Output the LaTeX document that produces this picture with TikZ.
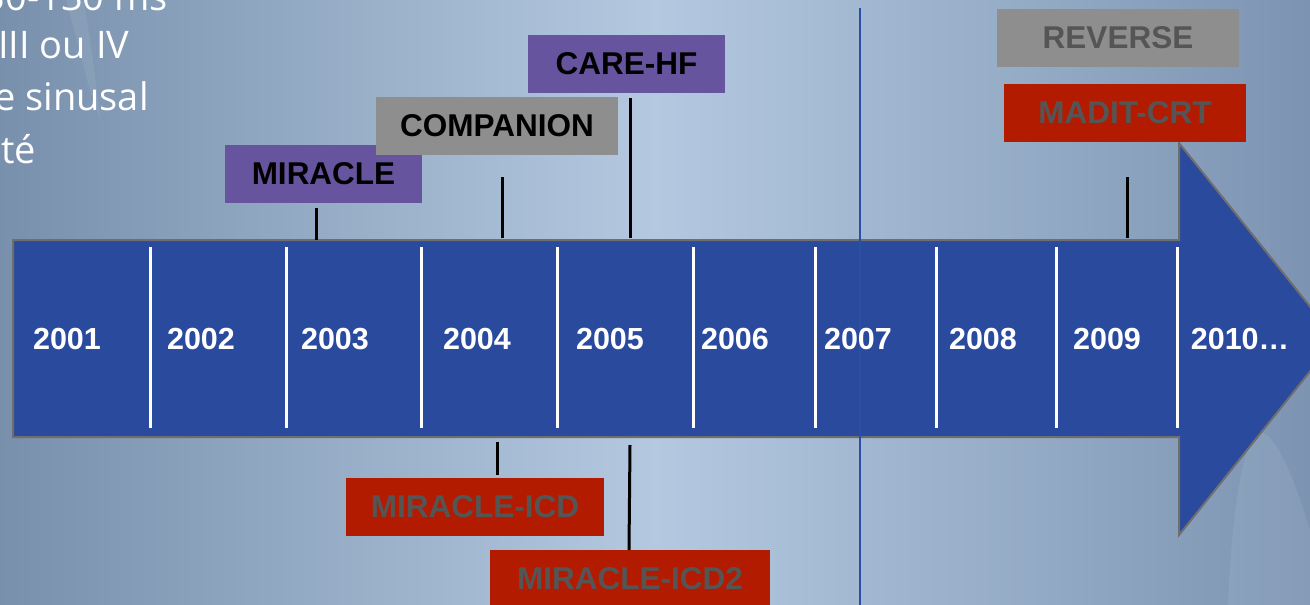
\documentclass[tikz,border=0pt]{standalone}
\usepackage{fontspec}
\setmainfont{Liberation Sans}
\newfontfamily\osans{Open Sans}
\definecolor{bgL}{HTML}{7890AC}
\definecolor{bgM}{HTML}{B4C9E0}
\definecolor{bgR}{HTML}{7C94B2}
\definecolor{arrowblue}{HTML}{2A4A9E}
\definecolor{outl}{HTML}{6E6E6E}
\definecolor{vline}{HTML}{2C4EA6}
\definecolor{purp}{HTML}{67549E}
\definecolor{greybox}{HTML}{8E8E8E}
\definecolor{redbox}{HTML}{B31B00}
\definecolor{dtext}{HTML}{555555}
\begin{document}
\begin{tikzpicture}[x=1pt,y=-1pt,
  lab/.style={inner sep=0pt, minimum height=58pt, font=\fontsize{31.5}{36}\selectfont\bfseries},
  purplebox/.style={lab, fill=purp, text=black},
  graybox/.style={lab, fill=greybox},
  rbox/.style={lab, fill=redbox, text=dtext},
  year/.style={font=\fontsize{30.5}{36}\selectfont\bfseries, text=white, inner sep=0pt},
  sep/.style={white, line width=3pt},
  conn/.style={black, line width=3pt},
  intro/.style={font=\osans\fontsize{38}{44}\selectfont, text=white, inner sep=0pt}]
\useasboundingbox (0,0) rectangle (1310,605);
\begin{scope}
\clip (0,0) rectangle (1310,605);
% background
\shade[left color=bgL, right color=bgR, middle color=bgM] (0,0) rectangle (1310,605);
\fill[white, opacity=0.07] (66,0) .. controls (80,50) and (88,90) .. (100,118) .. controls (96,80) and (90,40) .. (84,0) -- cycle;
\fill[white, opacity=0.07] (1228,605) .. controls (1232,500) and (1245,440) .. (1258,432) .. controls (1275,430) and (1295,480) .. (1310,530) -- (1310,605) -- cycle;

% intro text fragments
\node[intro, anchor=base east] (t1) at (168,10) {30-130 ms};
\node[intro, anchor=base west] (t2) at (-2,58) {III ou IV};
\node[intro, anchor=base west] (t3) at (-6,110) {e sinusal};
\node[intro, anchor=base west] (t4) at (1,163) {té};

% arrow
\draw[fill=arrowblue, draw=outl, line width=2pt, line join=miter]
  (13,240) -- (1179,240) -- (1179,143) -- (1336,339) -- (1179,535) -- (1179,437) -- (13,437) -- cycle;

% vertical line
\coordinate (vtop) at (860,8);
\coordinate (vbot) at (860,605);
\draw[vline, line width=2.5pt] (vtop) -- (vbot);

% separators
\foreach \x in {150,286,421,557,693,815,936,1056,1177}{
  \draw[sep] (\x,247) -- (\x,428);
}

% years
\node[year] (y1) at (67,339) {2001};
\node[year] (y2) at (201,339) {2002};
\node[year] (y3) at (335,339) {2003};
\node[year] (y4) at (477,339) {2004};
\node[year] (y5) at (610,339) {2005};
\node[year] (y6) at (735,339) {2006};
\node[year] (y7) at (858,339) {2007};
\node[year] (y8) at (983,339) {2008};
\node[year] (y9) at (1107,339) {2009};
\node[year] (y10) at (1240,339) {2010…};

% boxes above
\node[purplebox, minimum width=197pt] (miracle) at (323.5,174) {MIRACLE};
\node[graybox, minimum width=242pt, text=black] (companion) at (497,126) {COMPANION};
\node[purplebox, minimum width=197pt] (carehf) at (626.5,64) {CARE-HF};
\node[graybox, minimum width=242pt, text=dtext] (reverse) at (1118,37.5) {REVERSE};
\node[rbox, minimum width=242pt] (madit) at (1125,112.5) {MADIT-CRT};
% boxes below
\node[rbox, minimum width=258pt] (micd) at (475,506.5) {MIRACLE-ICD};
\node[rbox, minimum width=280pt] (micd2) at (630,579) {MIRACLE-ICD2};

% connectors
\coordinate (a1) at (316,208); \coordinate (b1) at (316,240);
\coordinate (a2) at (502,177); \coordinate (b2) at (502,238);
\coordinate (a3) at (630,98);  \coordinate (b3) at (630,238);
\coordinate (a4) at (1127,177); \coordinate (b4) at (1127,238);
\coordinate (a5) at (497,442); \coordinate (b5) at (497,475);
\coordinate (a6) at (630,445); \coordinate (b6) at (629,550);
\draw[conn] (a1) -- (b1);
\draw[conn] (a2) -- (b2);
\draw[conn] (a3) -- (b3);
\draw[conn] (a4) -- (b4);
\draw[conn] (a5) -- (b5);
\draw[conn] (a6) -- (b6);
\end{scope}
\end{tikzpicture}
\end{document}
